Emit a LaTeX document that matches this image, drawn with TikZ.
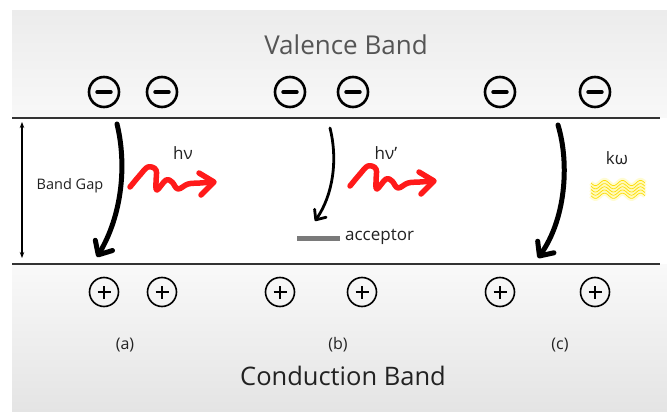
\documentclass[tikz,border=0pt]{standalone}
\usepackage{fontspec}
\setmainfont{Open Sans}
\usetikzlibrary{arrows.meta}
\definecolor{txt}{HTML}{222222}
\definecolor{vtxt}{HTML}{555555}
\definecolor{bandline}{HTML}{333333}
\definecolor{accgray}{HTML}{7A7A7A}
\definecolor{photon}{HTML}{FF1A1A}
\begin{document}
\begin{tikzpicture}[x=1pt,y=-1pt,
  elcirc/.style={circle,draw=black,line width=2.6pt,minimum size=30pt,inner sep=0pt,
    path picture={\draw[line width=3.4pt,line cap=round]
      ([xshift=-7pt]path picture bounding box.center) -- ([xshift=7pt]path picture bounding box.center);}},
  holecirc/.style={circle,draw=black,line width=1.6pt,minimum size=29pt,inner sep=0pt,
    path picture={\draw[line width=1.7pt]
      ([xshift=-6.5pt]path picture bounding box.center) -- ([xshift=6.5pt]path picture bounding box.center)
      ([yshift=-6.5pt]path picture bounding box.center) -- ([yshift=6.5pt]path picture bounding box.center);}},
  band/.style={draw=bandline,line width=1.6pt},
  trans/.style={draw=black,line cap=round,line join=round,
    -{Straight Barb[length=11pt,width=20pt,line cap=round,line join=round]}},
  squig/.style={draw=photon,line width=5.5pt,line cap=round,line join=round},
  lbl/.style={text=txt,inner sep=0pt,font=\fontsize{16}{19}\selectfont}
]
\useasboundingbox (0,0) rectangle (667,412);
% backgrounds
\fill[white] (0,0) rectangle (667,412);
\shade[top color={rgb,255:red,236;green,236;blue,236},bottom color={rgb,255:red,248;green,248;blue,248}] (12,11) rectangle (667,118);
\shade[top color={rgb,255:red,249;green,249;blue,249},bottom color={rgb,255:red,228;green,228;blue,228}] (12,264) rectangle (667,412);
\fill[white] (12,118) rectangle (667,264);
% band edges
\coordinate (vl) at (12,118); \coordinate (vr) at (660,118);
\coordinate (cl) at (12,264); \coordinate (cr) at (660,264);
\draw[band] (vl) -- (vr);
\draw[band] (cl) -- (cr);
% titles
\node[text=vtxt,font=\fontsize{26}{30}\selectfont] (vb) at (346,45) {Valence Band};
\node[text=txt,font=\fontsize{25.5}{30}\selectfont] (cb) at (343,376) {Conduction Band};
% electrons
\node[elcirc] (e1) at (104,92) {};
\node[elcirc] (e2) at (162,92) {};
\node[elcirc] (e3) at (290,92) {};
\node[elcirc] (e4) at (353,92) {};
\node[elcirc] (e5) at (500,92) {};
\node[elcirc] (e6) at (595,92) {};
% holes
\node[holecirc] (h1) at (104,292) {};
\node[holecirc] (h2) at (162,292) {};
\node[holecirc] (h3) at (280,292) {};
\node[holecirc] (h4) at (362,292) {};
\node[holecirc] (h5) at (500,292) {};
\node[holecirc] (h6) at (595,292) {};
% case labels
\node[lbl] (la) at (125,345) {(a)};
\node[lbl] (lb) at (338,345) {(b)};
\node[lbl] (lc) at (560,345) {(c)};
% band gap
\coordinate (g1) at (22,122); \coordinate (g2) at (22,258);
\draw[line width=1.1pt,{Stealth[length=6pt,width=4.5pt]}-{Stealth[length=6pt,width=4.5pt]}] (g1) -- (g2);
\node[lbl,font=\fontsize{14.5}{17}\selectfont] (bg) at (70,186) {Band Gap};
% transitions
\coordinate (a1) at (117,124); \coordinate (a2) at (97,257);
\draw[trans,line width=5pt] (a1) .. controls (127,165) and (122,215) .. (a2);
\coordinate (b1) at (330,128); \coordinate (b2) at (315,221);
\draw[trans,line width=2.8pt,-{Straight Barb[length=8pt,width=14pt,line cap=round,line join=round]}] (b1) .. controls (338,160) and (333,195) .. (b2);
\coordinate (c1) at (558,125); \coordinate (c2) at (538,258);
\draw[trans,line width=5pt] (c1) .. controls (570,165) and (565,220) .. (c2);
% acceptor level
\coordinate (ac1) at (297,238); \coordinate (ac2) at (340,238);
\draw[draw=accgray,line width=5pt] (ac1) -- (ac2);
\node[lbl,anchor=west,font=\fontsize{17}{20}\selectfont] (acc) at (345,237) {acceptor};
% photons
\foreach \dx/\dy in {0/0, 220/-1} {
  \begin{scope}[shift={(\dx,\dy)}]
    \draw[squig] plot[smooth,tension=0.6] coordinates {(130,187) (140,175) (148,167) (156,170) (156,182) (157,190) (166,180) (172,182) (178,189) (188,184) (200,183) (213,182)};
    \draw[squig] (199,173) -- (214,182) -- (201,195);
  \end{scope}
}
\node[lbl,font=\fontsize{17}{20}\selectfont] (hv1) at (183,153) {hν};
\node[lbl,font=\fontsize{17}{20}\selectfont] (hv2) at (386,153) {hν\char"27};
% phonon
\node[lbl,font=\fontsize{17}{20}\selectfont] (kw) at (617,158) {kω};
\foreach \i in {0,...,4} {
  \draw[yellow!35,line width=5pt,opacity=0.5] plot[domain=591:645,samples=60] (\x,{183+\i*3.2+2.6*sin((\x-591)*20)});
}
\foreach \i in {0,...,4} {
  \draw[yellow!80!orange,line width=0.7pt] plot[domain=591:645,samples=60] (\x,{183+\i*3.2+2.6*sin((\x-591)*20)});
}
\end{tikzpicture}
\end{document}
